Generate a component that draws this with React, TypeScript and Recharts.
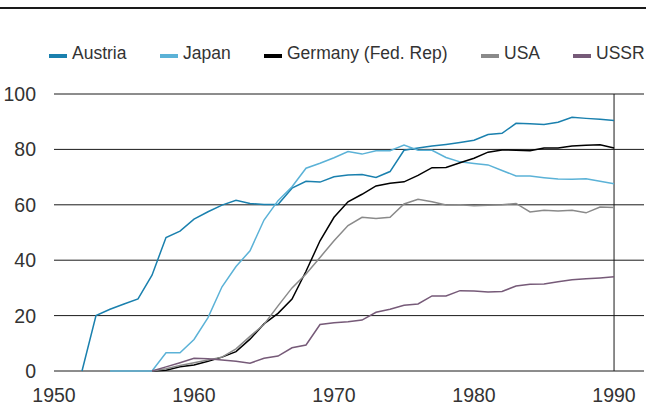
import { LineChart, Line, XAxis, YAxis, CartesianGrid, ReferenceLine } from 'recharts'

const YEARS = [
  1952, 1953, 1954, 1955, 1956, 1957, 1958, 1959, 1960, 1961,
  1962, 1963, 1964, 1965, 1966, 1967, 1968, 1969, 1970, 1971,
  1972, 1973, 1974, 1975, 1976, 1977, 1978, 1979, 1980, 1981,
  1982, 1983, 1984, 1985, 1986, 1987, 1988, 1989, 1990,
]

const AUSTRIA = [
  0, 20, 22.3, 24.2, 26, 34.6, 48.2, 50.5, 54.8, 57.5,
  59.9, 61.6, 60.5, 60.1, 60.1, 66, 68.5, 68.2, 70.1, 70.8,
  70.9, 69.9, 72, 79.7, 80.5, 81.2, 81.8, 82.5, 83.3, 85.4,
  85.8, 89.4, 89.3, 89, 89.8, 91.6, 91.2, 90.9, 90.4,
]

const JAPAN = [
  null, null, 0, 0, 0, 0, 6.6, 6.6, 11.4, 19.3,
  30.4, 37.7, 43.4, 54.5, 61.5, 66.5, 73.2, 75, 77, 79.2,
  78.3, 79.5, 79.5, 81.6, 79.7, 79.7, 77.1, 75.5, 74.9, 74.4,
  72.4, 70.4, 70.4, 69.8, 69.3, 69.2, 69.4, 68.5, 67.6,
]

const GERMANY = [
  null, null, null, null, null, 0, 0.3, 1.5, 2.2, 3.5,
  5, 7, 11.5, 17, 20.8, 26, 36, 47, 55.5, 61.1,
  63.8, 66.8, 67.8, 68.3, 70.6, 73.4, 73.5, 75.2, 76.8, 79,
  79.8, 79.7, 79.5, 80.5, 80.5, 81.2, 81.5, 81.7, 80.5,
]

const USA = [
  null, null, null, null, null, 0, 0.8, 2, 3, 4,
  5, 8, 12.5, 16.8, 23.5, 30, 35, 41, 47, 52.5,
  55.5, 55.1, 55.5, 60.3, 62, 61.1, 59.9, 60, 59.7, 59.8,
  60, 60.5, 57.4, 58, 57.8, 58, 57.1, 59.2, 59,
]

const USSR = [
  null, null, null, null, null, 0, 1.5, 3, 4.6, 4.4,
  4, 3.5, 2.8, 4.6, 5.4, 8.4, 9.4, 16.8, 17.4, 17.8,
  18.4, 21.2, 22.3, 23.7, 24.2, 27.1, 27.1, 29, 28.9, 28.5,
  28.7, 30.7, 31.3, 31.4, 32.2, 32.9, 33.3, 33.6, 34,
]

const X_TICKS = [1950, 1960, 1970, 1980, 1990]
const Y_TICKS = [0, 20, 40, 60, 80, 100]

const SERIES = [
  { key: 'austria', name: 'Austria', color: '#1a80ae', values: AUSTRIA },
  { key: 'japan', name: 'Japan', color: '#5bb2d7', values: JAPAN },
  { key: 'germany', name: 'Germany (Fed. Rep)', color: '#000000', values: GERMANY },
  { key: 'usa', name: 'USA', color: '#8a8a8a', values: USA },
  { key: 'ussr', name: 'USSR', color: '#765a78', values: USSR },
]

// legend item left edges, as in the original layout
const LEGEND_X = [49, 160, 264, 481, 573]

const data = YEARS.map((year, i) => {
  const row: Record<string, number | null> = { year }
  SERIES.forEach((s) => {
    row[s.key] = s.values[i]
  })
  return row
})

const FONT = '"Liberation Sans", Arial, Helvetica, sans-serif'
const TEXT = '#333333'

export default function App() {
  return (
    <div style={{ position: 'absolute', left: 0, top: 0, width: 646, height: 405, background: '#fff', fontFamily: FONT }}>
      <div style={{ position: 'absolute', left: 0, top: 7, width: 646, height: 2, background: '#1a1a1a' }} />
      {SERIES.map((s, i) => (
        <div
          key={s.key}
          style={{ position: 'absolute', left: LEGEND_X[i], top: 43, display: 'flex', alignItems: 'center', whiteSpace: 'nowrap' }}
        >
          <span style={{ width: 18, height: 4, background: s.color, marginRight: 5, marginTop: 4 }} />
          <span style={{ fontSize: 17.5, color: TEXT }}>{s.name}</span>
        </div>
      ))}
      <div style={{ position: 'absolute', left: 0, top: 0 }}>
        <LineChart width={646} height={405} data={data} margin={{ top: 94, right: 2, bottom: 4, left: 0 }}>
          <CartesianGrid vertical={false} stroke="#1a1a1a" strokeWidth={1} />
          <XAxis
            dataKey="year"
            type="number"
            domain={[1950, 1992.14]}
            ticks={X_TICKS}
            allowDataOverflow
            axisLine={false}
            tickLine={false}
            tickMargin={11}
            height={30}
            tick={{ fontSize: 19.5, fill: TEXT, fontFamily: FONT }}
          />
          <YAxis
            domain={[0, 100]}
            ticks={Y_TICKS}
            axisLine={false}
            tickLine={false}
            tickMargin={12}
            width={54}
            tick={{ fontSize: 19.5, fill: TEXT, fontFamily: FONT }}
          />
          <ReferenceLine x={1990} stroke="#1a1a1a" strokeWidth={1} />
          {SERIES.map((s) => (
            <Line
              key={s.key}
              dataKey={s.key}
              name={s.name}
              type="linear"
              stroke={s.color}
              strokeWidth={1.5}
              dot={false}
              isAnimationActive={false}
            />
          ))}
        </LineChart>
      </div>
    </div>
  )
}
